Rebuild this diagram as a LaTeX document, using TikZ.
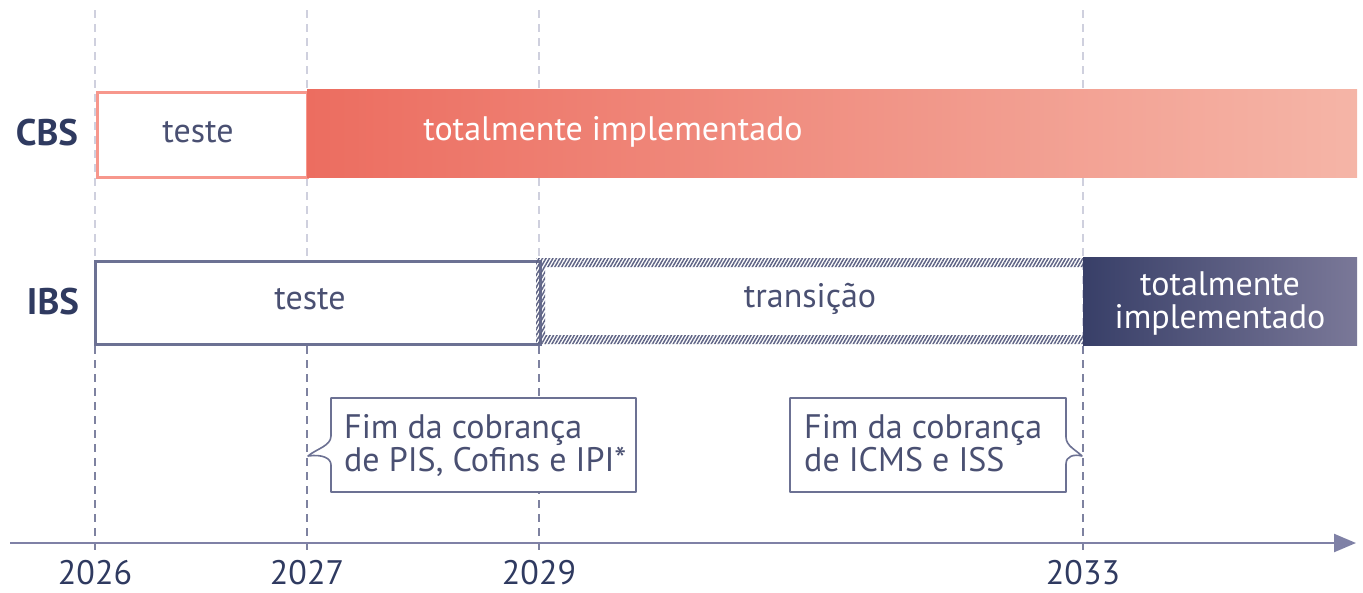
\documentclass[tikz,border=0pt]{standalone}
\usepackage{fontspec}
\setmainfont{PT Sans}
\usetikzlibrary{patterns.meta,arrows.meta}
\definecolor{navy}{HTML}{2F3A60}
\definecolor{txt}{HTML}{4A5072}
\definecolor{salmon}{HTML}{F7978C}
\definecolor{cbsA}{HTML}{EC6D60}
\definecolor{cbsB}{HTML}{F5B5A7}
\definecolor{ibsline}{HTML}{6C7193}
\definecolor{ibsA}{HTML}{383F68}
\definecolor{ibsB}{HTML}{7A7898}
\definecolor{dashlight}{HTML}{CFD0DE}
\definecolor{dashdark}{HTML}{7E82A0}
\definecolor{axis}{HTML}{7F81A6}
\definecolor{hatch}{HTML}{5F6485}
\tikzset{
  lbl/.style={font=\fontsize{34}{33}\selectfont, text=txt, inner sep=0pt},
  rowlbl/.style={font=\fontsize{37}{36}\selectfont\bfseries, text=navy, inner sep=0pt},
  year/.style={font=\fontsize{34}{36}\selectfont, text=navy, inner sep=0pt},
  guideA/.style={dashlight, line width=1.6pt, dash pattern=on 8pt off 6pt},
  guideB/.style={dashdark, line width=1.6pt, dash pattern=on 8pt off 6pt},
  callout/.style={draw=ibsline, line width=1.6pt, fill=white, line join=round},
}
\begin{document}
\begin{tikzpicture}[x=1pt,y=-1pt]
\useasboundingbox (0,0) rectangle (1363,592);
% guide lines
\foreach \gx/\gn in {95/a,307/b,539/c,1083/d}{
  \coordinate (top\gn) at (\gx,10);
  \coordinate (mid\gn) at (\gx,346);
  \coordinate (bot\gn) at (\gx,553);
  \draw[guideA] (top\gn) -- (mid\gn);
  \draw[guideB] (mid\gn) -- (bot\gn);
}
% CBS row
\node[rowlbl] (cbs) at (47,133) {CBS};
\node[draw=salmon, line width=3pt, fill=white, minimum width=210pt, minimum height=85pt, inner sep=0pt, anchor=north west] (cbsT) at (96,91) {};
\node[lbl] (cbsTt) at (198,132) {teste};
\node[left color=cbsA, right color=cbsB, minimum width=1050pt, minimum height=88pt, inner sep=0pt, anchor=north west] (cbsF) at (307,89.5) {};
\node[lbl, text=white] (cbsFt) at (613,132) {totalmente implementado};
% IBS row
\node[rowlbl] (ibs) at (53,302) {IBS};
\node[draw=ibsline, line width=3pt, fill=white, minimum width=445pt, minimum height=83pt, inner sep=0pt, anchor=north west] (ibsT) at (94,260) {};
\node[lbl] (ibsTt) at (310,299) {teste};
% transition hatched frame
\coordinate (trO1) at (536,258);
\coordinate (trO2) at (1083,344);
\coordinate (trI1) at (545,267);
\coordinate (trI2) at (1083,335);
\fill[even odd rule, pattern={Lines[angle=60,distance=3pt,line width=1.5pt]}, pattern color=hatch]
  (trO1) rectangle (trO2) (trI1) rectangle (trI2);
\node[lbl] (ibsTr) at (810,299) {transição};
\node[left color=ibsA, right color=ibsB, minimum width=274pt, minimum height=88pt, inner sep=0pt, anchor=north west] (ibsF) at (1083,257) {};
\node[lbl, text=white, align=center] (ibsFt) at (1220,303) {totalmente\\implementado};
% callout 1
\coordinate (c1tl) at (331,398);
\coordinate (c1tr) at (636,398);
\coordinate (c1br) at (636,492);
\coordinate (c1bl) at (331,492);
\coordinate (c1p) at (308,456);
\draw[callout] (c1tl) -- (c1tr) -- (c1br) -- (c1bl) -- (331,465)
  .. controls (331,458) and (322,454) .. (c1p)
  .. controls (316,449) and (331,446) .. (331,436) -- cycle;
\node[lbl, align=left, anchor=north west] (c1t) at (344,414) {Fim da cobrança\\de PIS, Cofins e IPI*};
% callout 2
\coordinate (c2tl) at (790,398);
\coordinate (c2tr) at (1066,398);
\coordinate (c2br) at (1066,492);
\coordinate (c2bl) at (790,492);
\coordinate (c2p) at (1082,456);
\draw[callout] (c2tl) -- (c2tr) -- (1066,437)
  .. controls (1066,446) and (1076,450) .. (c2p)
  .. controls (1074,454) and (1066,456) .. (1066,464)
  -- (c2br) -- (c2bl) -- cycle;
\node[lbl, align=left, anchor=north west] (c2t) at (804,414) {Fim da cobrança\\de ICMS e ISS};
% axis
\coordinate (ax0) at (10,543);
\coordinate (ax1) at (1356,543);
\draw[axis, line width=2.4pt, -{Triangle[length=22pt,width=18pt]}] (ax0) -- (ax1);
% years
\node[year] (y26) at (95,573) {2026};
\node[year] (y27) at (307,573) {2027};
\node[year] (y29) at (539,573) {2029};
\node[year] (y33) at (1083,573) {2033};
\end{tikzpicture}
\end{document}
